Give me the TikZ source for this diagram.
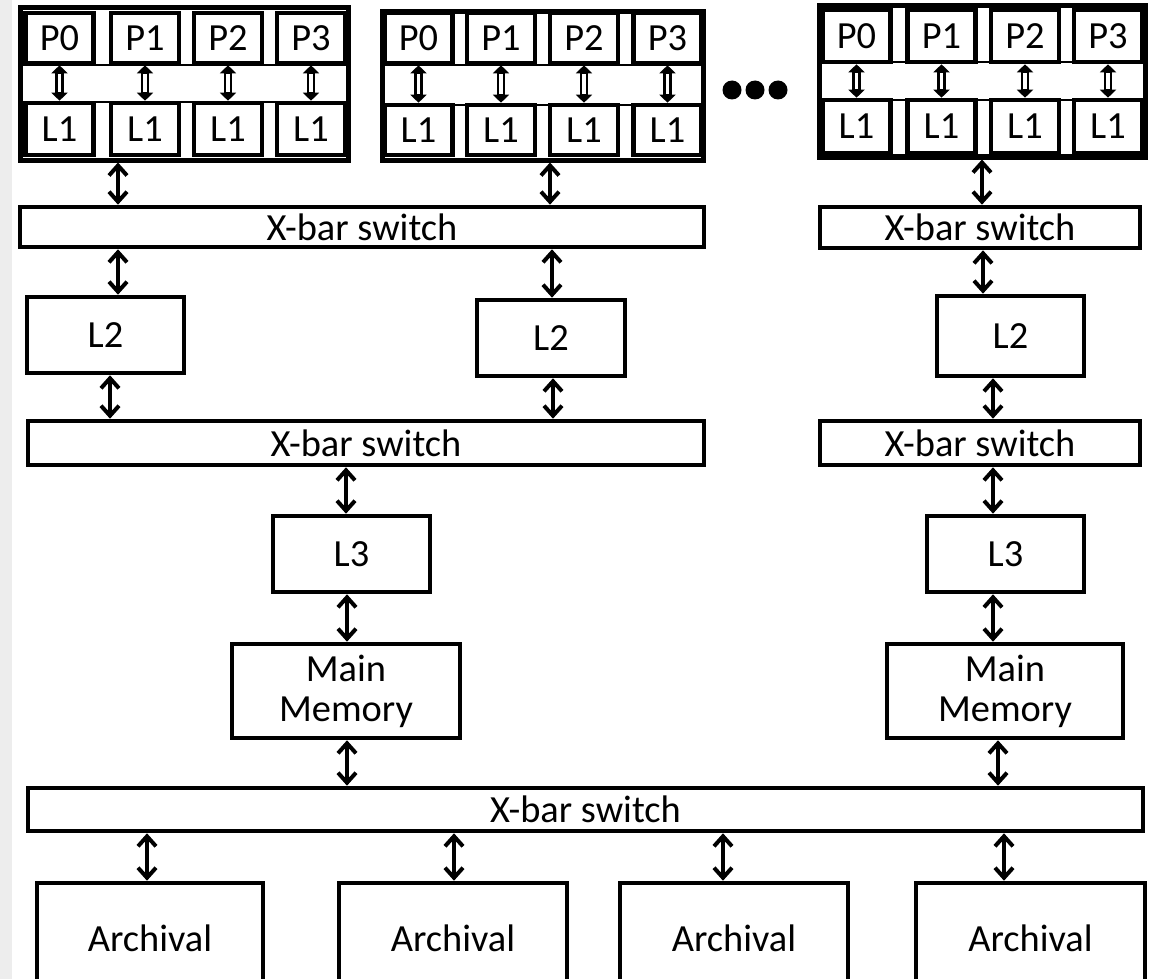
\documentclass[tikz,border=0pt]{standalone}
\usepackage{fontspec}
\setmainfont{Carlito}
\usetikzlibrary{arrows.meta}

\begin{document}
\begin{tikzpicture}[x=0.5pt, y=-0.5pt,
    box/.style={draw, line width=2.3pt, inner sep=0pt, align=center,
                font=\fontsize{19.2}{20}\selectfont},
    frame/.style={draw, line width=2.5pt, inner sep=0pt},
    link/.style={{Straight Barb[length=5pt,width=9pt]}-{Straight Barb[length=5pt,width=9pt]},
                 line width=2pt},
    dlink/.style={{Triangle[length=4pt,width=8pt]}-{Triangle[length=4pt,width=8pt]},
                  line width=4.4pt,
                  postaction={draw=white, -, line width=1.6pt, shorten <=4.5pt, shorten >=4.5pt}}]

    \useasboundingbox (0,0) rectangle (1151,979);
    \fill[black!7] (0,0) rectangle (12,979);

    % processor clusters
    \node[frame, minimum width=164pt, minimum height=76pt] (clA) at (184,84) {};
    \draw[line width=1pt] (20,65) rectangle (348,102);
    \foreach \i/\x in {0/59.5,1/145,2/228,3/311} {
        \node[box, minimum width=34pt, minimum height=25pt] (pA\i) at (\x,38) {P\i};
        \node[box, minimum width=34pt, minimum height=26pt] (lA\i) at (\x,129) {L1};
        \draw[dlink] (pA\i) -- (lA\i);
    }

    \node[frame, minimum width=160.5pt, minimum height=74pt] (clB) at (542.5,86) {};
    \draw[line width=1pt] (382,65) rectangle (703,105);
    \foreach \i/\x in {0/418.5,1/501,2/584,3/667.5} {
        \node[box, minimum width=34pt, minimum height=25pt] (pB\i) at (\x,38) {P\i};
        \node[box, minimum width=34pt, minimum height=25pt] (lB\i) at (\x,130) {L1};
        \draw[dlink] (pB\i) -- (lB\i);
    }

    \node[frame, minimum width=163pt, minimum height=75.5pt] (clC) at (982,81.5) {};
    \draw[line width=1pt] (819,62) rectangle (1145,100);
    \foreach \i/\x in {0/856.5,1/941.5,2/1025,3/1108} {
        \node[box, minimum width=34pt, minimum height=26pt] (pC\i) at (\x,36) {P\i};
        \node[box, minimum width=34pt, minimum height=26.5pt] (lC\i) at (\x,126.5) {L1};
        \draw[dlink] (pC\i) -- (lC\i);
    }

    \foreach \i/\x in {1/732,2/755,3/778}
        \node[circle, fill, inner sep=0pt, minimum size=9.5pt] (dot\i) at (\x,90) {};

    % switches and caches
    \node[box, minimum width=342pt, minimum height=20pt] (xbA) at (362,227) {X-bar switch};
    \node[box, minimum width=160pt, minimum height=20.5pt] (xbC) at (980,227.5) {X-bar switch};

    \node[box, minimum width=78.5pt, minimum height=38pt] (L2a) at (105.5,335) {L2};
    \node[box, minimum width=74pt, minimum height=38pt] (L2b) at (551,338) {L2};
    \node[box, minimum width=73.5pt, minimum height=40pt] (L2c) at (1010.5,336) {L2};

    \node[box, minimum width=338pt, minimum height=22pt] (xb2A) at (366,443) {X-bar switch};
    \node[box, minimum width=160pt, minimum height=22pt] (xb2C) at (980,443) {X-bar switch};

    \node[box, minimum width=78.5pt, minimum height=38pt] (L3a) at (351.5,554) {L3};
    \node[box, minimum width=78.5pt, minimum height=38pt] (L3b) at (1005.5,554) {L3};

    \node[box, minimum width=114pt, minimum height=47pt] (MMa) at (346,691) {Main\\Memory};
    \node[box, minimum width=118pt, minimum height=47pt] (MMb) at (1005,691) {Main\\Memory};

    \node[box, minimum width=557.5pt, minimum height=21.5pt] (xb3) at (585.5,809.5) {X-bar switch};

    \node[box, minimum width=113pt, minimum height=55pt] (arA) at (150,938) {Archival};
    \node[box, minimum width=114pt, minimum height=55pt] (arB) at (453,938) {Archival};
    \node[box, minimum width=114pt, minimum height=55pt] (arC) at (734,938) {Archival};
    \node[box, minimum width=114.5pt, minimum height=55pt] (arD) at (1030.5,938) {Archival};

    % links
    \foreach \a/\b/\x in {clA/xbA/118, clB/xbA/550, clC/xbC/982,
                          xbA/L2a/118, xbA/L2b/552, xbC/L2c/983,
                          L2a/xb2A/110, L2b/xb2A/553, L2c/xb2C/993,
                          xb2A/L3a/346, xb2C/L3b/993,
                          L3a/MMa/347, L3b/MMb/993,
                          MMa/xb3/347, MMb/xb3/998,
                          xb3/arA/147, xb3/arB/454, xb3/arC/723, xb3/arD/1004}
        \draw[link] (\a.south -| \x,0) -- (\b.north -| \x,0);

\end{tikzpicture}
\end{document}
